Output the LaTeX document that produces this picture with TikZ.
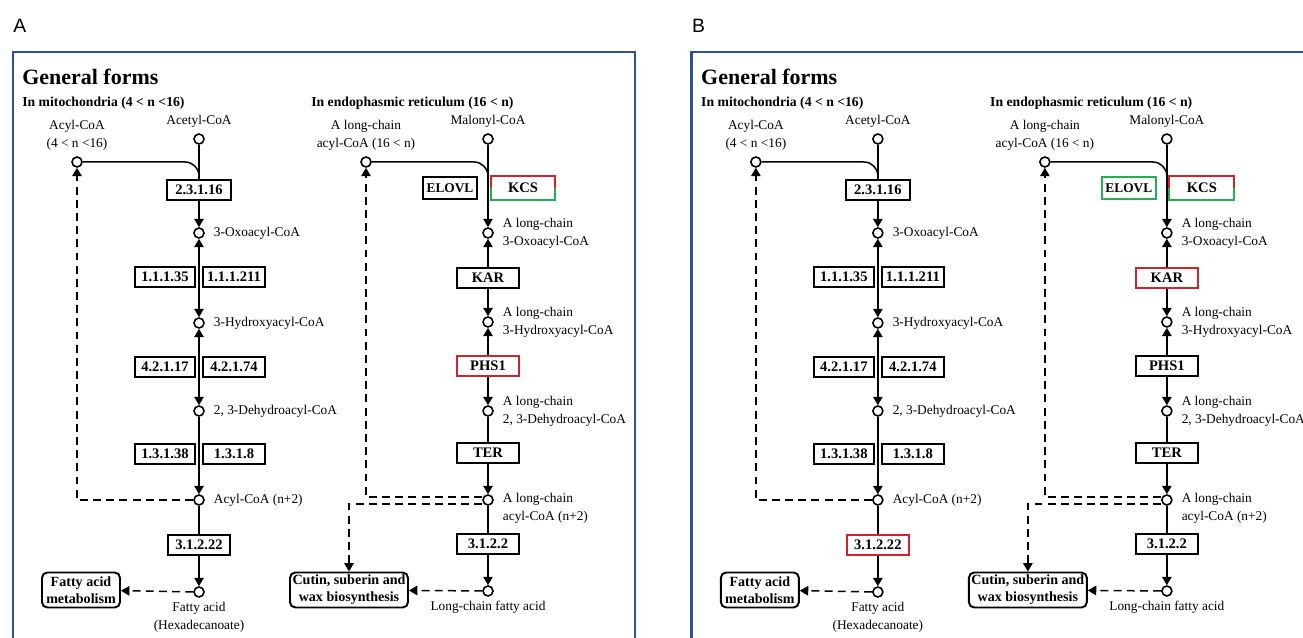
\documentclass[tikz,border=0pt]{standalone}
\usepackage{fontspec}
\setmainfont{Liberation Serif}
\newfontfamily\panelfont{Liberation Sans}
\usetikzlibrary{arrows.meta,positioning,calc}
\definecolor{frameblue}{RGB}{43,80,158}
\definecolor{enzred}{RGB}{208,36,44}
\definecolor{enzgreen}{RGB}{36,176,80}
\tikzset{
  cpd/.style={circle,draw,fill=white,line width=0.9pt,minimum size=0.2cm,inner sep=0pt},
  lbl/.style={font=\fontsize{7.6}{10.2}\selectfont,inner sep=1pt,align=left},
  enz/.style={draw,fill=white,line width=1.1pt,minimum width=1.24cm,minimum height=0.4cm,inner sep=1pt,font=\bfseries\fontsize{8.3}{10}\selectfont},
  mapbox/.style={draw,fill=white,rounded corners=3pt,line width=1.1pt,minimum height=0.7cm,inner sep=1pt,align=center,font=\bfseries\fontsize{8}{9.6}\selectfont},
  rxn/.style={line width=0.85pt,-{Triangle[width=5.4pt,length=4.8pt]}},
  revrxn/.style={line width=0.85pt,{Triangle[width=5.4pt,length=4.8pt]}-{Triangle[width=5.4pt,length=4.8pt]}},
  dashlink/.style={line width=0.85pt,dash pattern=on 4.5pt off 3pt,-{Triangle[width=5.4pt,length=4.8pt]}},
  heading/.style={anchor=west,inner sep=0pt,font=\bfseries\fontsize{7.8}{9}\selectfont}
}
% #1 panel letter, #2 shift, #3 ELOVL, #4 KAR, #5 PHS1, #6 3.1.2.22
\newcommand{\generalforms}[6]{%
\begin{scope}[xshift=#2]
  \draw[frameblue,line width=1.7pt] (13,52) rectangle (635,700);
  \node[anchor=west,inner sep=0pt,font=\panelfont\fontsize{11}{13}\selectfont] (panel#1) at (13,26) {#1};
  \node[anchor=west,inner sep=0pt,font=\bfseries\fontsize{12.5}{14}\selectfont] (title#1) at (22,77) {General forms};
  \node[heading] (mito#1) at (22,103) {In mitochondria (4 < n <16)};
  \node[heading] (er#1) at (311,103) {In endophasmic reticulum (16 < n)};

  %%%%% mitochondria %%%%%
  \node[cpd] (acetyl#1) at (199,139) {};
  \node[cpd] (acyl#1) at (77,162) {};
  \node[cpd] (oxo#1) at (199,233) {};
  \node[cpd] (hyd#1) at (199,323) {};
  \node[cpd] (dehyd#1) at (199,411) {};
  \node[cpd] (acyln#1) at (199,500) {};
  \node[cpd] (fa#1) at (199,592) {};
  \coordinate (join#1) at (199,180);
  \node[mapbox,minimum width=1.56cm] (fam#1) at (81,590) {Fatty acid\\metabolism};

  \node[lbl,above=0.07cm of acetyl#1] {Acetyl-CoA};
  \node[lbl,align=center,above=0.07cm of acyl#1] {Acyl-CoA\\(4 < n <16)};
  \node[lbl,right=0.14cm of oxo#1] {3-Oxoacyl-CoA};
  \node[lbl,right=0.14cm of hyd#1] {3-Hydroxyacyl-CoA};
  \node[lbl,right=0.14cm of dehyd#1] {2, 3-Dehydroacyl-CoA};
  \node[lbl,right=0.14cm of acyln#1] {Acyl-CoA (n+2)};
  \node[lbl,align=center,below=0.05cm of fa#1] {Fatty acid\\(Hexadecanoate)};

  \draw[rxn] (acetyl#1) -- (oxo#1);
  \draw[line width=0.85pt,rounded corners=0.28cm] (acyl#1) -- (join#1 |- acyl#1) -- (join#1);
  \draw[revrxn] (oxo#1) -- (hyd#1);
  \draw[revrxn] (hyd#1) -- (dehyd#1);
  \draw[rxn] (dehyd#1) -- (acyln#1);
  \draw[rxn] (acyln#1) -- (fa#1);
  \draw[dashlink] (acyln#1) -| (acyl#1);
  \draw[dashlink] (fa#1) -- (fam#1);

  \node[enz,minimum width=1.28cm] (ec2316#1) at (199,190) {2.3.1.16};
  \node[enz,minimum width=1.2cm] (ec11135#1) at (165,277) {1.1.1.35};
  \node[enz] (ec111211#1) at (234,277) {1.1.1.211};
  \node[enz,minimum width=1.2cm] (ec42117#1) at (165,367) {4.2.1.17};
  \node[enz] (ec42174#1) at (234,367) {4.2.1.74};
  \node[enz,minimum width=1.2cm] (ec13138#1) at (165,454) {1.3.1.38};
  \node[enz] (ec1318#1) at (234,454) {1.3.1.8};
  \node[enz,draw=#6] (ec31222#1) at (199,545) {3.1.2.22};

  %%%%% endoplasmic reticulum %%%%%
  \node[cpd] (malonyl#1) at (488,139) {};
  \node[cpd] (lcacyl#1) at (366,162) {};
  \node[cpd] (lcoxo#1) at (488,233) {};
  \node[cpd] (lchyd#1) at (488,322) {};
  \node[cpd] (lcdehyd#1) at (488,411) {};
  \node[cpd] (lcn#1) at (488,500) {};
  \node[cpd] (lcfa#1) at (488,591) {};
  \coordinate (erjoin#1) at (488,178);
  \node[mapbox,minimum width=2.36cm] (cutin#1) at (349,590) {Cutin, suberin and\\wax biosynthesis};

  \node[lbl,above=0.07cm of malonyl#1] {Malonyl-CoA};
  \node[lbl,align=center,above=0.07cm of lcacyl#1] {A long-chain\\acyl-CoA (16 < n)};
  \node[lbl,right=0.14cm of lcoxo#1] {A long-chain\\3-Oxoacyl-CoA};
  \node[lbl,right=0.14cm of lchyd#1] {A long-chain\\3-Hydroxyacyl-CoA};
  \node[lbl,right=0.14cm of lcdehyd#1] {A long-chain\\2, 3-Dehydroacyl-CoA};
  \node[lbl,right=0.14cm of lcn#1,yshift=-0.17cm] {A long-chain\\acyl-CoA (n+2)};
  \node[lbl,below=0.05cm of lcfa#1] {Long-chain fatty acid};

  \draw[rxn] (malonyl#1) -- (lcoxo#1);
  \draw[line width=0.85pt,rounded corners=0.28cm] (lcacyl#1) -- (erjoin#1 |- lcacyl#1) -- (erjoin#1);
  \draw[revrxn] (lcoxo#1) -- (lchyd#1);
  \draw[revrxn] (lchyd#1) -- (lcdehyd#1);
  \draw[rxn] (lcdehyd#1) -- (lcn#1);
  \draw[rxn] (lcn#1) -- (lcfa#1);
  \draw[dashlink] ($(lcn#1.west)+(0,-3)$) -| (lcacyl#1);
  \draw[dashlink] ($(lcn#1.west)+(0,4)$) -| (cutin#1);
  \draw[dashlink] (lcfa#1) -- (cutin#1);

  \node[enz,minimum width=1.08cm,minimum height=0.44cm,draw=#3,font=\bfseries\fontsize{7.6}{9}\selectfont] (elovl#1) at (450,188) {ELOVL};
  \node[enz,minimum width=1.26cm,minimum height=0.44cm,draw=none] (kcs#1) at (523,188) {KCS};
  \draw[enzred,line width=1.1pt] (kcs#1.west) |- (kcs#1.north east) -- (kcs#1.east);
  \draw[enzgreen,line width=1.1pt] (kcs#1.west) |- (kcs#1.south east) -- (kcs#1.east);
  \node[enz,draw=#4] (kar#1) at (488,278) {KAR};
  \node[enz,draw=#5] (phs#1) at (488,366) {PHS1};
  \node[enz] (ter#1) at (488,453) {TER};
  \node[enz,line width=0.75pt] (ec3122#1) at (488,544) {3.1.2.2};
\end{scope}}

\begin{document}
\begin{tikzpicture}[x=0.02cm,y=-0.02cm]
  \clip (0,0) rectangle (1303,638);
  \fill[white] (0,0) rectangle (1303,638);
  \generalforms{A}{0cm}{black}{black}{enzred}{black}
  \generalforms{B}{13.58cm}{enzgreen}{enzred}{black}{enzred}
\end{tikzpicture}
\end{document}
